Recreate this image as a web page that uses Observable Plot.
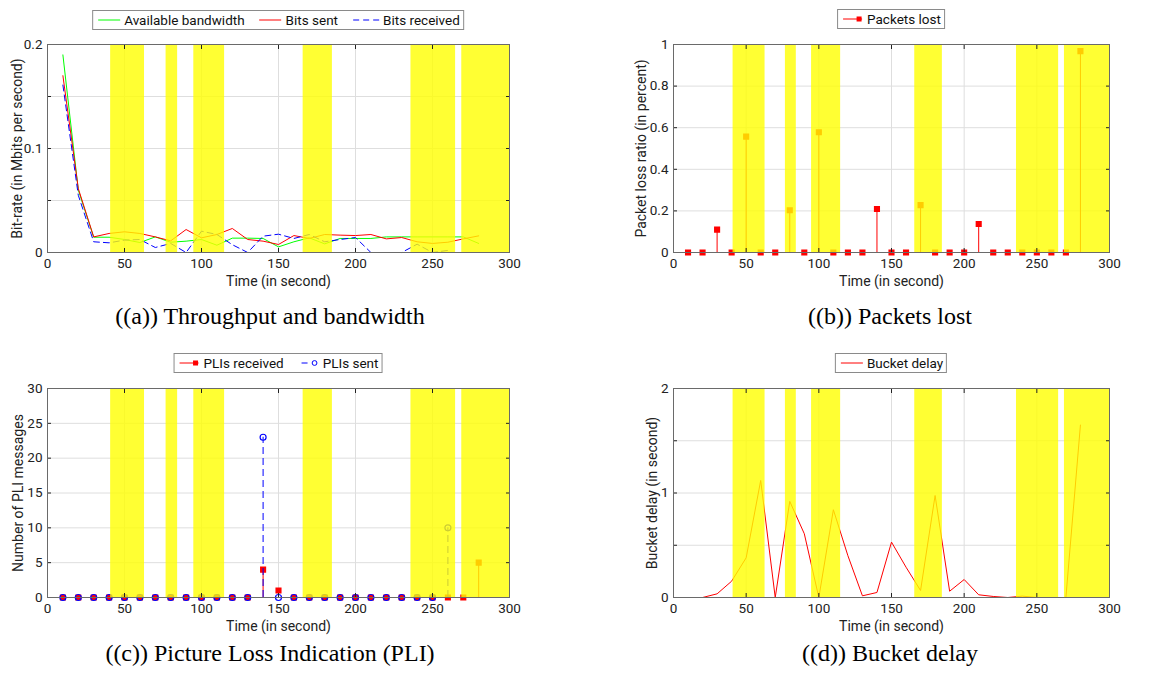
<!DOCTYPE html>
<html>
<head>
<meta charset="utf-8">
<script src="https://cdn.jsdelivr.net/npm/d3@7"></script>
<script src="https://cdn.jsdelivr.net/npm/@observablehq/plot@0.6"></script>
<style>
html, body { margin: 0; padding: 0; background: #fff; overflow: hidden; }
#root { position: relative; width: 1162px; height: 677px; overflow: hidden; font-family: Roboto, sans-serif; }
.panel { position: absolute; }
.panel svg { max-width: none !important; overflow: visible; }
.legend { position: absolute; transform: translateX(-50%); border: 1px solid #8a8a8a; background: #fff;
  display: flex; align-items: center; height: 18px; padding: 0 3px 0 4px; font-size: 13.5px; color: #111; white-space: nowrap; }
.legend .item { display: flex; align-items: center; margin-right: 14px; }
.legend .item:last-child { margin-right: 0; }
.legend svg { margin-right: 3px; display: block; }
.caption { position: absolute; transform: translateX(-50%); font-family: "Liberation Serif", "Times New Roman", serif;
  font-size: 24px; line-height: 24px; color: #000; white-space: nowrap; }
</style>
</head>
<body>
<div id="root"></div>
<script>
// ---------------- data ----------------
const time = [10,20,30,40,50,60,70,80,90,100,110,120,130,140,150,160,170,180,190,200,210,220,230,240,250,260,270,280];
const availableBandwidth = [0.190,0.060,0.0147,0.0147,0.0125,0.0096,0.0150,0.0099,0.0109,0.0125,0.0070,0.0138,0.0138,0.0135,0.0054,0.0103,0.0141,0.0083,0.0135,0.0135,0.0135,0.0150,0.0150,0.0150,0.0150,0.0150,0.0150,0.0087];
const bitsSent = [0.170,0.0615,0.0150,0.0183,0.0199,0.0183,0.0150,0.0112,0.0221,0.0141,0.0173,0.0231,0.0125,0.0109,0.0077,0.0163,0.0135,0.0173,0.0167,0.0163,0.0173,0.0131,0.0144,0.0103,0.0087,0.0099,0.0131,0.0160];
const timeReceived = [10,20,30,40,50,60,70,80,90,100,110,120,130,140,150,160,170,180,190,200,210,220,230,240,250,260];
const bitsReceived = [0.161,0.055,0.0103,0.0093,0.0119,0.0125,0.0048,0.0087,0.0,0.0205,0.0173,0.0075,0.0,0.0157,0.0176,0.0135,0.0173,0.0103,0.0125,0.0144,0.0,0.0,0.0,0.008,0.0,0.002];

const packetLoss = [0,0,0.11,0,0.557,0,0,0.203,0,0.578,0,0,0,0.209,0,0,0.228,0,0,0,0.137,0,0,0,0,0,0,0.968];

const pliReceived = [0,0,0,0,0,0,0,0,0,0,0,0,0,4,1,0,0,0,0,0,0,0,0,0,0,0,0,5];
const timeSent = [10,20,30,40,50,60,70,80,90,100,110,120,130,140,150,160,170,180,190,200,210,220,230,240,250,260];
const pliSent = [0,0,0,0,0,0,0,0,0,0,0,0,0,23,0,0,0,0,0,0,0,0,0,0,0,10];

const bucketDelay = [0,0,0.035,0.156,0.38,1.12,0,0.92,0.61,0,0.84,0.40,0.016,0.048,0.53,0.29,0.067,0.976,0.06,0.172,0.026,0.01,0,0.013,0,0,0,1.65];

// highlighted time intervals (yellow)
const bandStart = [41, 77, 95, 166, 236, 269];
const bandEnd   = [63, 84.5, 115, 185, 265, 300];

const xTicks = [0,50,100,150,200,250,300];
const xLabel = "Time (in second)";

// ---------------- helpers ----------------
const rows = (xs, ys) => xs.map((x, i) => ({x, y: ys[i]}));
const bands = bandStart.map((s, i) => ({start: s, end: bandEnd[i]}));
const gridColor = "#dedede";
const root = document.getElementById("root");

function addPanel(cfg) {
  const [fx0, fy0, fx1, fy1] = cfg.frame;
  const mL = 45, mT = 10, mR = 12, mB = 45;
  const width = fx1 - fx0 + mL + mR, height = fy1 - fy0 + mT + mB;
  const labeled = new Set(cfg.yLabeled);
  const svg = Plot.plot({
    width, height,
    marginLeft: mL, marginRight: mR, marginTop: mT, marginBottom: mB,
    x: {domain: [0, 300]},
    y: {domain: cfg.yDomain},
    style: {fontFamily: "Roboto, sans-serif", fontSize: "13.5px", color: "#222", background: "transparent"},
    marks: [
      Plot.gridX({ticks: xTicks, stroke: gridColor, strokeOpacity: 1}),
      Plot.gridY({ticks: cfg.yTicks, stroke: gridColor, strokeOpacity: 1}),
      ...cfg.marks,
      Plot.rect(bands, {x1: "start", x2: "end", fill: "#ffff00", fillOpacity: 0.8}),
      Plot.axisX({ticks: xTicks, tickSize: -4, tickPadding: 10, tickFormat: d => String(d), label: null}),
      Plot.axisX({anchor: "top", ticks: xTicks, tickSize: -4, tickFormat: () => "", label: null}),
      Plot.axisY({ticks: cfg.yTicks, tickSize: -4, tickPadding: 9, tickFormat: d => labeled.has(d) ? String(d) : "", label: null}),
      Plot.axisY({anchor: "right", ticks: cfg.yTicks, tickSize: -4, tickFormat: () => "", label: null}),
      Plot.frame({stroke: "#6a6a6a", strokeWidth: 1}),
      Plot.text([xLabel], {text: d => d, frameAnchor: "bottom", textAnchor: "middle", lineAnchor: "middle", dy: 29, fontSize: 14, fill: "#222"}),
      Plot.text([cfg.yLabel], {text: d => d, frameAnchor: "left", textAnchor: "middle", rotate: -90, lineAnchor: "middle", dx: cfg.yLabelDx, fontSize: 14, fill: "#222"})
    ]
  });
  const div = document.createElement("div");
  div.className = "panel";
  div.style.left = (fx0 - mL) + "px";
  div.style.top = (fy0 - mT) + "px";
  div.style.width = width + "px";
  div.style.height = height + "px";
  div.appendChild(svg);
  root.appendChild(div);
}

function addLegend(cx, top, items) {
  const div = document.createElement("div");
  div.className = "legend";
  div.style.left = cx + "px";
  div.style.top = top + "px";
  div.innerHTML = items.map(it =>
    `<div class="item"><svg width="${it.w || 24}" height="12">${it.sample}</svg><span>${it.label}</span></div>`
  ).join("");
  root.appendChild(div);
}

function addCaption(cx, top, text) {
  const div = document.createElement("div");
  div.className = "caption";
  div.style.left = cx + "px";
  div.style.top = top + "px";
  div.textContent = text;
  root.appendChild(div);
}

// ---------------- (a) ----------------
addPanel({
  frame: [47, 44, 509, 252],
  yDomain: [0, 0.2],
  yTicks: [0, 0.05, 0.1, 0.15, 0.2],
  yLabeled: [0, 0.1, 0.2],
  yLabel: "Bit-rate (in Mbits per second)",
  yLabelDx: -30,
  marks: [
    Plot.line(rows(time, availableBandwidth), {x: "x", y: "y", stroke: "#00ff00", strokeWidth: 1}),
    Plot.line(rows(time, bitsSent), {x: "x", y: "y", stroke: "#ff0000", strokeWidth: 1}),
    Plot.line(rows(timeReceived, bitsReceived), {x: "x", y: "y", stroke: "#0000ff", strokeWidth: 1, strokeDasharray: "6,4"})
  ]
});

// ---------------- (b) ----------------
addPanel({
  frame: [673, 44, 1109, 252],
  yDomain: [0, 1],
  yTicks: [0, 0.2, 0.4, 0.6, 0.8, 1],
  yLabeled: [0, 0.2, 0.4, 0.6, 0.8, 1],
  yLabel: "Packet loss ratio (in percent)",
  yLabelDx: -31.5,
  marks: [
    Plot.ruleX(rows(time, packetLoss), {x: "x", y: "y", stroke: "#ff0000", strokeWidth: 1}),
    Plot.dot(rows(time, packetLoss), {x: "x", y: "y", symbol: "square", fill: "#ff0000", stroke: "#ff0000", r: 2.6})
  ]
});

// ---------------- (c) ----------------
addPanel({
  frame: [47, 388, 509, 597],
  yDomain: [0, 30],
  yTicks: [0, 5, 10, 15, 20, 25, 30],
  yLabeled: [0, 5, 10, 15, 20, 25, 30],
  yLabel: "Number of PLI messages",
  yLabelDx: -28.5,
  marks: [
    Plot.ruleX(rows(time, pliReceived), {x: "x", y: "y", stroke: "#ff0000", strokeWidth: 1}),
    Plot.dot(rows(time, pliReceived), {x: "x", y: "y", symbol: "square", fill: "#ff0000", stroke: "#ff0000", r: 2.6}),
    Plot.ruleX(rows(timeSent, pliSent), {x: "x", y: "y", stroke: "#0000ff", strokeWidth: 1, strokeDasharray: "7,4"}),
    Plot.dot(rows(timeSent, pliSent), {x: "x", y: "y", symbol: "circle", fill: "none", stroke: "#0000ff", strokeWidth: 1.2, r: 3})
  ]
});

// ---------------- (d) ----------------
addPanel({
  frame: [673, 388, 1109, 597],
  yDomain: [0, 2],
  yTicks: [0, 0.5, 1, 1.5, 2],
  yLabeled: [0, 1, 2],
  yLabel: "Bucket delay (in second)",
  yLabelDx: -21,
  marks: [
    Plot.line(rows(time, bucketDelay), {x: "x", y: "y", stroke: "#ff0000", strokeWidth: 1})
  ]
});

// ---------------- legends ----------------
addLegend(278, 10, [
  {label: "Available bandwidth", sample: '<line x1="1" x2="23" y1="6" y2="6" stroke="#00ff00" stroke-width="1"/>'},
  {label: "Bits sent", sample: '<line x1="1" x2="23" y1="6" y2="6" stroke="#ff0000" stroke-width="1"/>'},
  {label: "Bits received", sample: '<line x1="1" x2="27" y1="6" y2="6" stroke="#0000ff" stroke-width="1" stroke-dasharray="6,4"/>', w: 28}
]);
addLegend(891, 9, [
  {label: "Packets lost", sample: '<line x1="1" x2="20" y1="6" y2="6" stroke="#ff0000" stroke-width="1"/><rect x="14.5" y="3.5" width="5" height="5" fill="#ff0000"/>', w: 22}
]);
addLegend(278, 353, [
  {label: "PLIs received", sample: '<line x1="1" x2="20" y1="6" y2="6" stroke="#ff0000" stroke-width="1"/><rect x="14.5" y="3.5" width="5" height="5" fill="#ff0000"/>', w: 22},
  {label: "PLIs sent", sample: '<line x1="4" x2="10" y1="6" y2="6" stroke="#0000ff" stroke-width="1"/><circle cx="17" cy="6" r="2.4" fill="none" stroke="#0000ff" stroke-width="1"/>', w: 22}
]);
addLegend(891, 353, [
  {label: "Bucket delay", sample: '<line x1="1" x2="23" y1="6" y2="6" stroke="#ff0000" stroke-width="1"/>'}
]);

// ---------------- captions ----------------
addCaption(270, 304, "((a)) Throughput and bandwidth");
addCaption(890, 304, "((b)) Packets lost");
addCaption(270, 641, "((c)) Picture Loss Indication (PLI)");
addCaption(890, 641, "((d)) Bucket delay");
</script>
</body>
</html>
